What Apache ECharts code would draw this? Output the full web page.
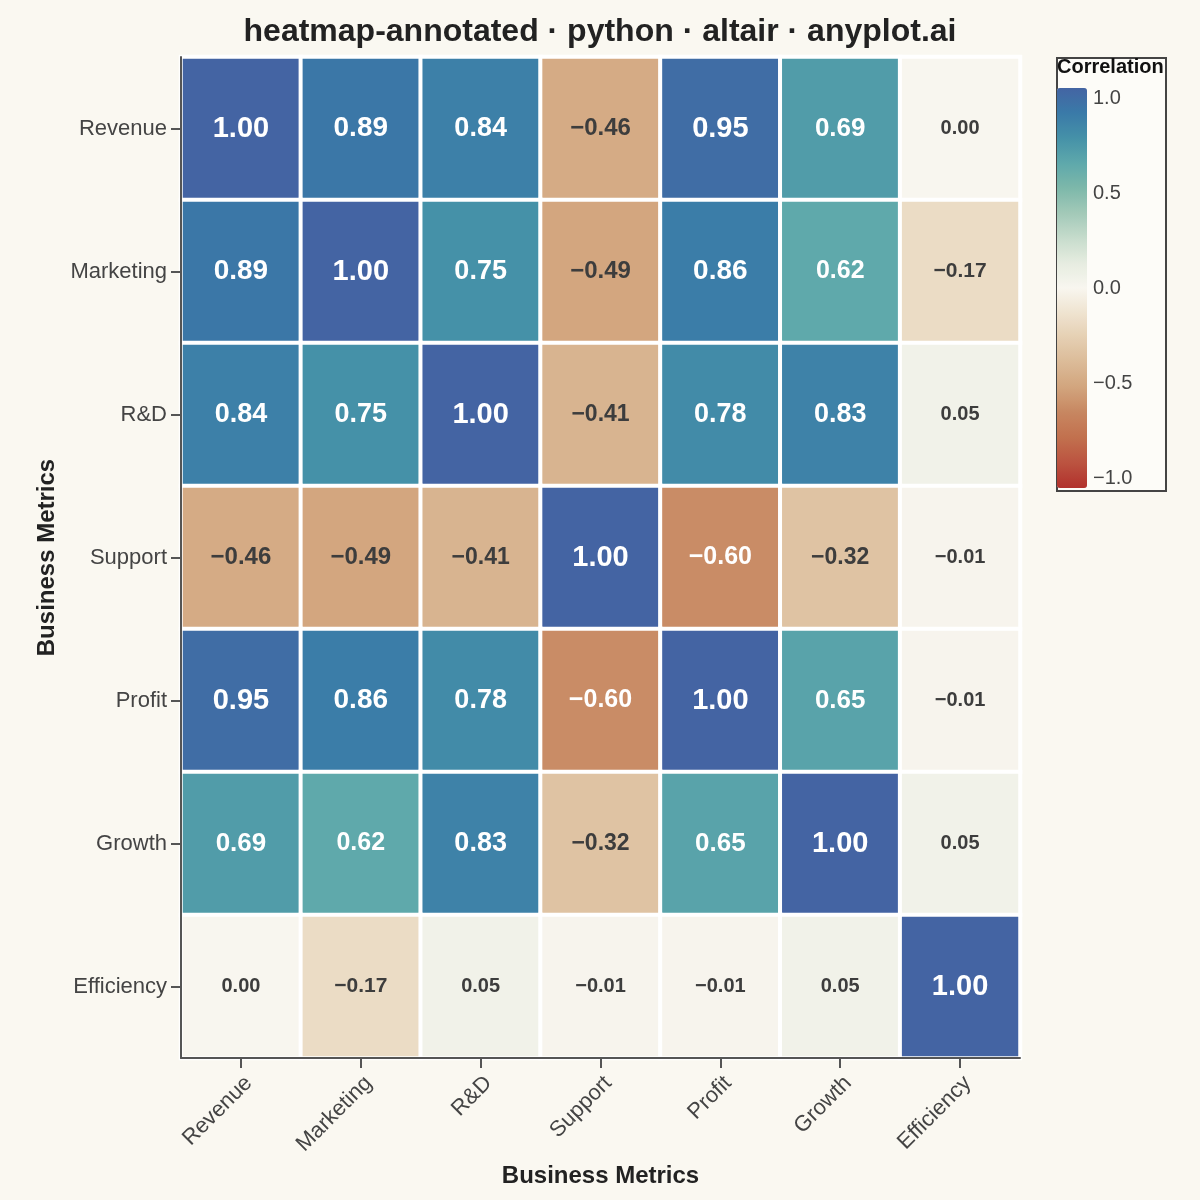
<!DOCTYPE html>
<html>
<head>
<meta charset="utf-8">
<script src="https://cdn.jsdelivr.net/npm/echarts@6/dist/echarts.min.js"></script>
<style>
  html, body { margin: 0; padding: 0; background: #FAF8F1; }
  #chart { width: 1200px; height: 1200px; }
</style>
</head>
<body>
<div id="chart"></div>
<script>
// metrics, same order on both axes
let metrics = ['Revenue', 'Marketing', 'R&D', 'Support', 'Profit', 'Growth', 'Efficiency'];
// one row per metric (top to bottom)
let rowRevenue    = [1.00, 0.89, 0.84, -0.46, 0.95, 0.69, 0.00];
let rowMarketing  = [0.89, 1.00, 0.75, -0.49, 0.86, 0.62, -0.17];
let rowRnD        = [0.84, 0.75, 1.00, -0.41, 0.78, 0.83, 0.05];
let rowSupport    = [-0.46, -0.49, -0.41, 1.00, -0.60, -0.32, -0.01];
let rowProfit     = [0.95, 0.86, 0.78, -0.60, 1.00, 0.65, -0.01];
let rowGrowth     = [0.69, 0.62, 0.83, -0.32, 0.65, 1.00, 0.05];
let rowEfficiency = [0.00, -0.17, 0.05, -0.01, -0.01, 0.05, 1.00];
let rows = [rowRevenue, rowMarketing, rowRnD, rowSupport, rowProfit, rowGrowth, rowEfficiency];

// diverging palette, -1 -> 1 in steps of 0.125
let palette = ['#b2302c', '#bb5340', '#c2704e', '#c78660', '#d2a47d', '#dbba97', '#e5cfb2', '#efe3d0',
               '#f8f6ef',
               '#e6ece0', '#c6dccc', '#a2c9b8', '#7db8aa', '#5ea8ab', '#4591a8', '#3a7aa8', '#4464a3'];

function fmt(v, digits) {
    let s = Math.abs(v).toFixed(digits);
    return (v < 0 && Number(s) !== 0) ? '\u2212' + s : s;
}

let cells = [];
rows.forEach(function (row, y) {
    row.forEach(function (v, x) {
        let a = Math.abs(v);
        cells.push({
            value: [x, y, v],
            label: {
                color: a > 0.5 ? '#ffffff' : '#3d3d3d',
                fontSize: Math.round(19.5 + 9.5 * a)
            }
        });
    });
});

let chart = echarts.init(document.getElementById('chart'));

let axisCommon = {
    nameLocation: 'middle',
    nameTextStyle: { fontSize: 24, fontWeight: 'bold', color: '#222222' },
    axisLine: { show: true, lineStyle: { color: '#555555', width: 2 } },
    axisTick: { show: true, alignWithLabel: true, length: 10, lineStyle: { color: '#555555', width: 2 } },
    splitLine: { show: false },
    z: 5
};

let option = {
    backgroundColor: '#FAF8F1',
    textStyle: { fontFamily: 'Liberation Sans, Arial, sans-serif' },
    title: {
        text: 'heatmap-annotated \u00b7 python \u00b7 altair \u00b7 anyplot.ai',
        left: 'center',
        top: 11,
        textStyle: { fontSize: 32, fontWeight: 'bold', color: '#222222' }
    },
    grid: [
        { left: 181, right: 180, top: 57, bottom: 142 },
        { left: 1087, top: 98, width: 1, height: 380 }
    ],
    xAxis: [
        Object.assign({}, axisCommon, {
            type: 'category',
            gridIndex: 0,
            position: 'bottom',
            data: metrics,
            name: 'Business Metrics',
            nameGap: 106,
            axisLabel: { fontSize: 22, color: '#444444', rotate: 45, margin: 14, verticalAlign: 'top' }
        }),
        {
            type: 'value',
            gridIndex: 1,
            show: false
        }
    ],
    yAxis: [
        Object.assign({}, axisCommon, {
            type: 'category',
            gridIndex: 0,
            inverse: true,
            data: metrics,
            name: 'Business Metrics',
            nameGap: 119,
            axisLabel: { fontSize: 22, color: '#444444', margin: 14 }
        }),
        {
            type: 'value',
            gridIndex: 1,
            min: -1,
            max: 1,
            interval: 0.5,
            axisLine: { show: false },
            axisTick: { show: false },
            splitLine: { show: false },
            axisLabel: {
                inside: true,
                margin: 6,
                fontSize: 20,
                color: '#444444',
                formatter: function (v) { return fmt(v, 1); }
            }
        }
    ],
    visualMap: {
        type: 'continuous',
        min: -1,
        max: 1,
        seriesIndex: 0,
        calculable: false,
        orient: 'vertical',
        left: 1057,
        top: 88,
        padding: 0,
        itemWidth: 30,
        itemHeight: 400,
        showLabel: false,
        inRange: { color: palette }
    },
    graphic: [
        {
            type: 'rect',
            left: 1056,
            top: 57,
            shape: { width: 109, height: 433 },
            style: { fill: '#fdfcf8', stroke: '#444444', lineWidth: 2 },
            z: -1
        },
        {
            type: 'text',
            left: 1057,
            top: 57,
            style: { text: 'Correlation', fontSize: 20, fontWeight: 'bold', fill: '#111111',
                     fontFamily: 'Liberation Sans, Arial, sans-serif' }
        }
    ],
    series: [
        {
            type: 'heatmap',
            xAxisIndex: 0,
            yAxisIndex: 0,
            data: cells,
            itemStyle: { borderColor: '#ffffff', borderWidth: 4 },
            label: {
                show: true,
                fontWeight: 'bold',
                formatter: function (p) { return fmt(p.value[2], 2); }
            },
            emphasis: { disabled: true }
        },
        {
            type: 'scatter',
            xAxisIndex: 1,
            yAxisIndex: 1,
            data: [],
            silent: true
        }
    ]
};

chart.setOption(option);
</script>
</body>
</html>
